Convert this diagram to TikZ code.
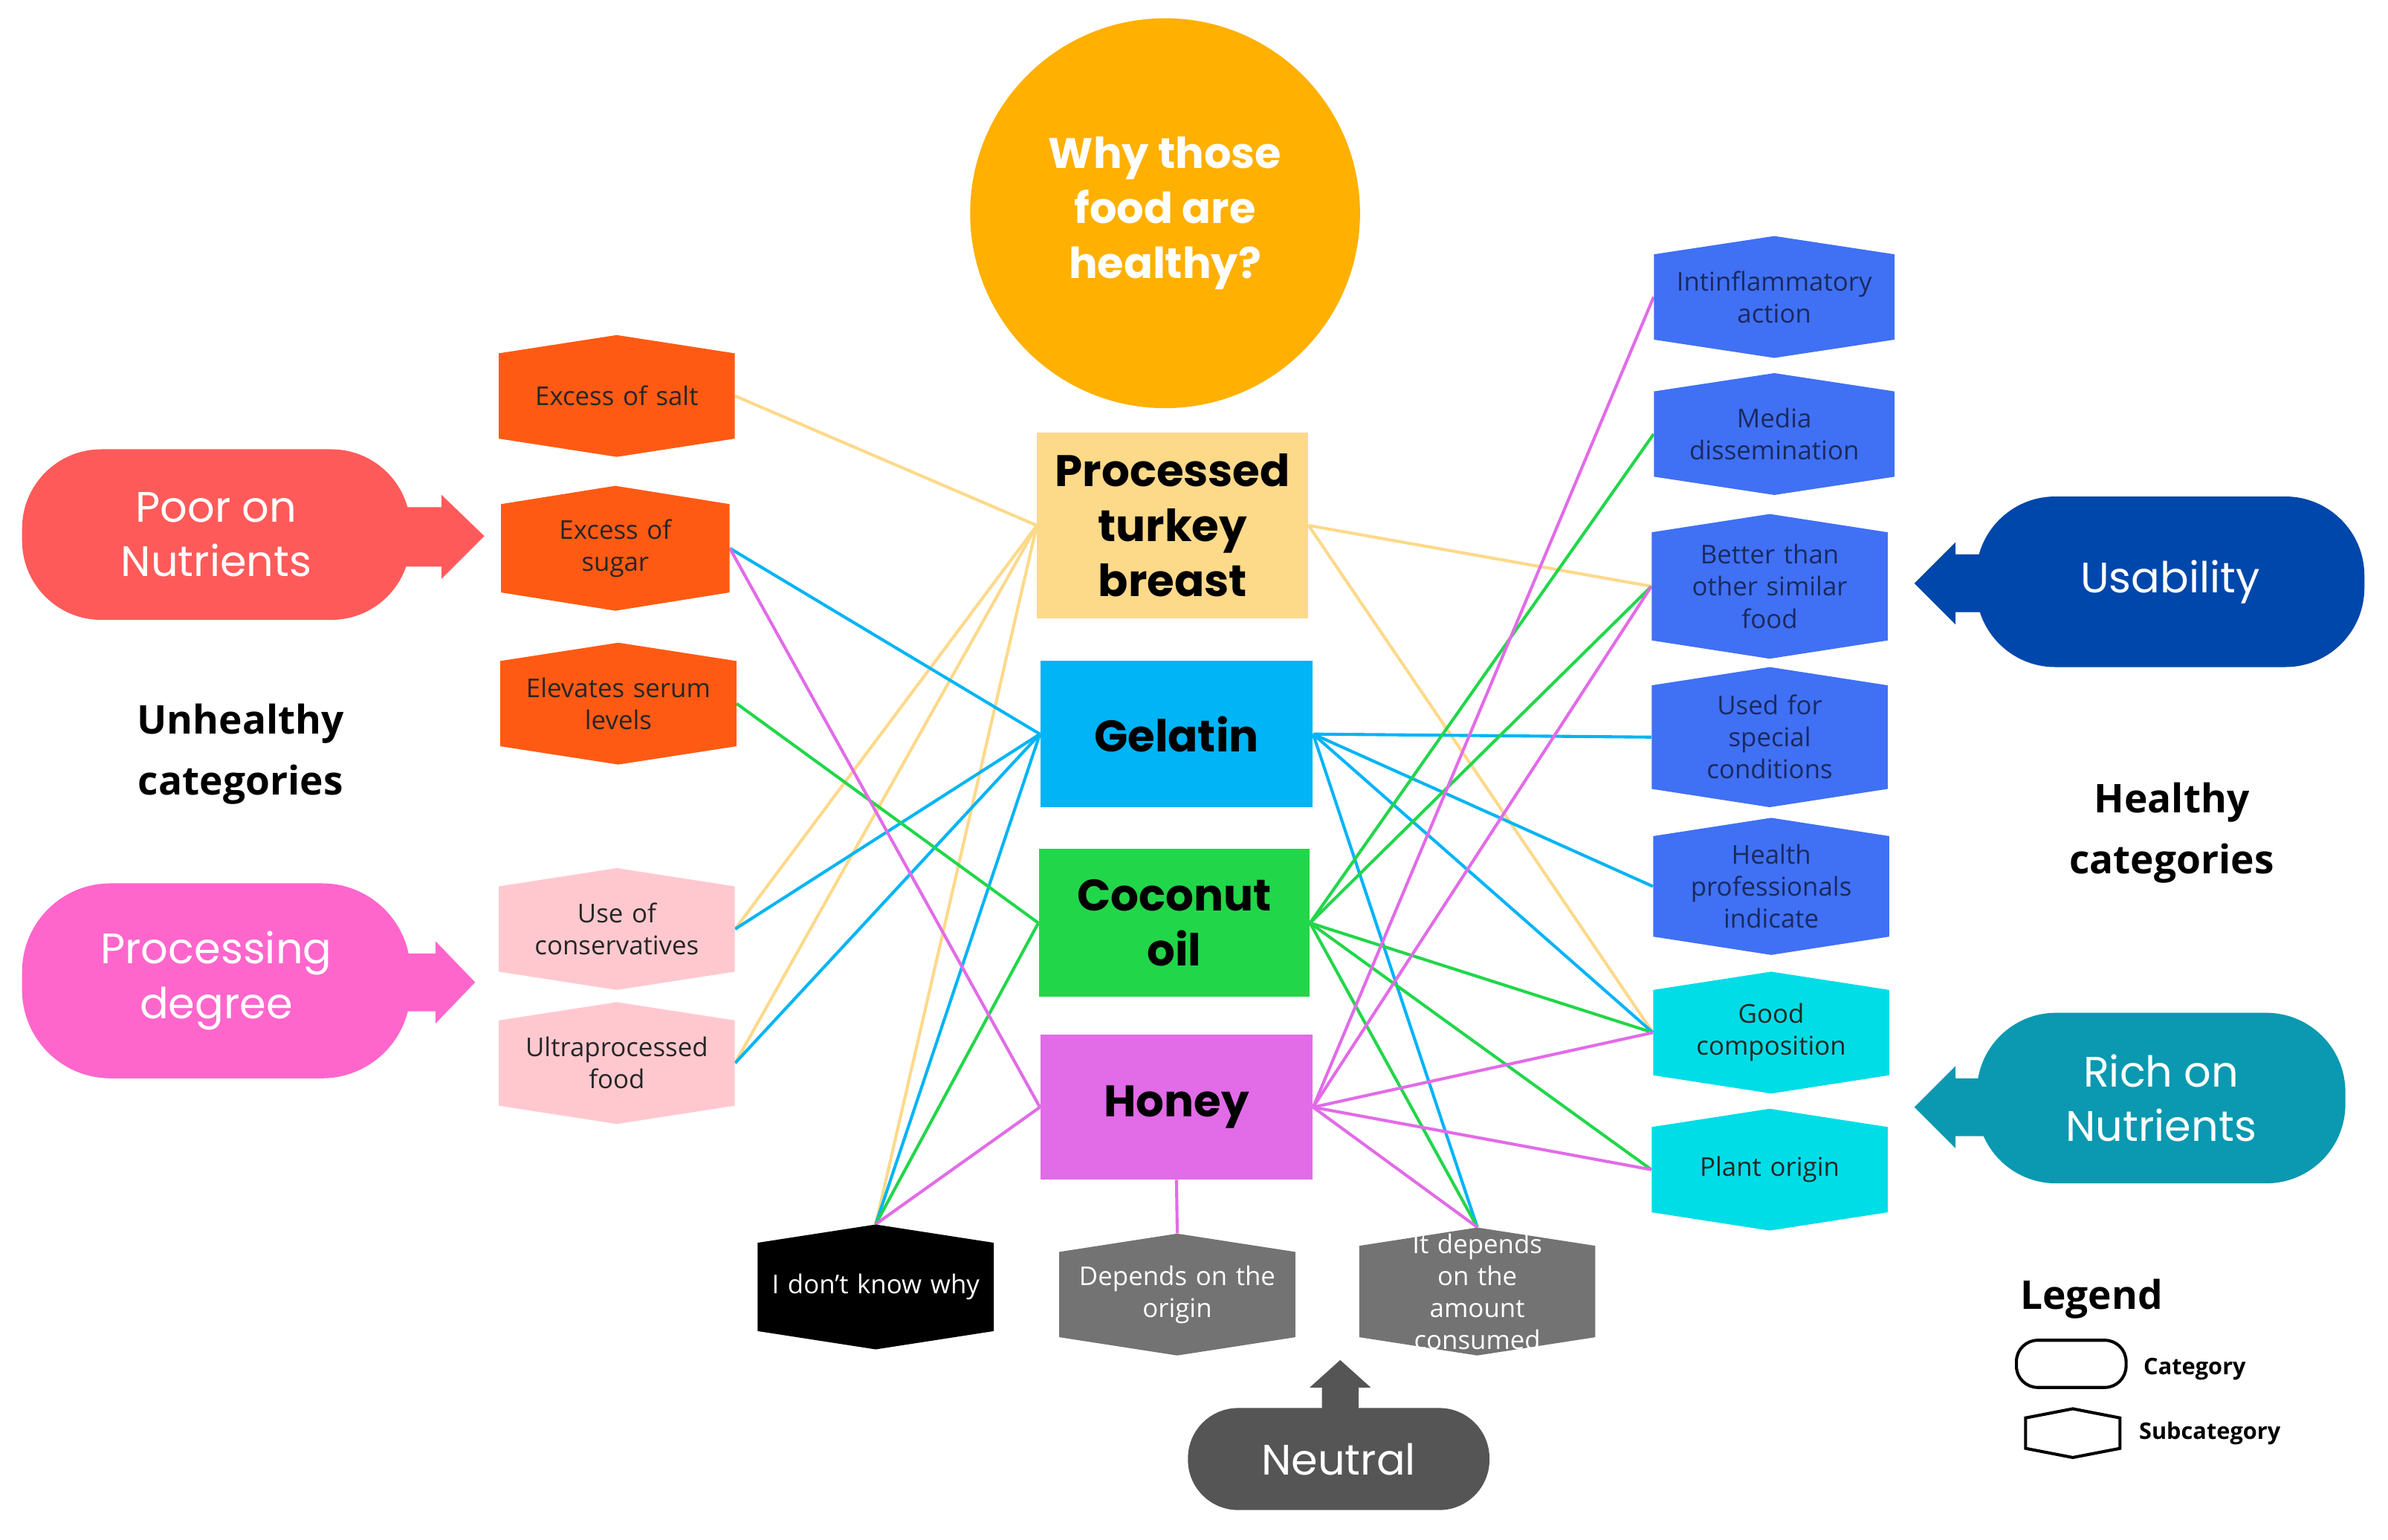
\documentclass[tikz,border=0pt]{standalone}
\usepackage{fontspec}
\setmainfont{Open Sans}
\newfontfamily\pop{Poppins}
\usetikzlibrary{backgrounds}
\definecolor{corg}{HTML}{FF5A14}
\definecolor{cpink}{HTML}{FFC8CF}
\definecolor{cblue}{HTML}{4070F4}
\definecolor{ccyan}{HTML}{00DDE6}
\definecolor{cgray}{HTML}{737373}
\definecolor{cturk}{HTML}{FDD98A}
\definecolor{cgel}{HTML}{00B4F5}
\definecolor{ccoc}{HTML}{22D64A}
\definecolor{chon}{HTML}{E26BE8}
\definecolor{ccirc}{HTML}{FFB000}
\definecolor{cpoor}{HTML}{FF5A5A}
\definecolor{cproc}{HTML}{FF66CC}
\definecolor{cusab}{HTML}{0047AB}
\definecolor{crich}{HTML}{0A99B0}
\definecolor{cneut}{HTML}{555555}
\definecolor{ctxtb}{HTML}{1A2A60}
\tikzset{
 sub/.style={inner sep=0pt, align=center, font=\fontsize{17}{21}\selectfont},
 food/.style={inner sep=0pt, align=center, font=\pop\bfseries\fontsize{29}{36}\selectfont},
 cat/.style={rounded corners=52pt, text=white, align=center, font=\pop\fontsize{28}{36}\selectfont},
 lk/.style={line width=2pt},
}
% name, cx, cy, w, h, fill, text colour, text
\newcommand\hx[8]{%
 \fill[#6] (#2-#4/2,#3-#5/2+12) -- (#2,#3-#5/2) -- (#2+#4/2,#3-#5/2+12) -- (#2+#4/2,#3+#5/2-12) -- (#2,#3+#5/2) -- (#2-#4/2,#3+#5/2-12) -- cycle;
 \node[sub, minimum width=#4pt, minimum height=#5pt, text width=#4pt-12pt, text=#7] (#1) at (#2,#3) {#8};}
\begin{document}
\begin{tikzpicture}[x=1pt,y=-1pt]
\useasboundingbox (0,0) rectangle (1568,1011);
% circle
\fill[ccirc] (765,140) circle (128);
\node[text=white, align=center, font=\pop\bfseries\fontsize{28}{36}\selectfont] (q) at (765,140) {Why those\\food are\\healthy?};
% center boxes
\node[food, fill=cturk, minimum width=178pt, minimum height=122pt] (tur) at (770,345) {Processed\\turkey\\breast};
\node[food, fill=cgel, minimum width=179pt, minimum height=96pt] (gel) at (772.5,482) {Gelatin};
\node[food, fill=ccoc, minimum width=178pt, minimum height=97pt] (coc) at (771,606) {Coconut\\oil};
\node[food, fill=chon, minimum width=179pt, minimum height=95pt] (hon) at (772.5,727) {Honey};
% left subcategories
\hx{salt}{405}{260}{155}{80}{corg}{black!85}{Excess of salt}
\hx{sug}{404}{360}{150}{82}{corg}{black!85}{Excess of\\sugar}
\hx{ser}{406}{462}{155}{80}{corg}{black!85}{Elevates serum\\levels}
\hx{cons}{405}{610}{155}{80}{cpink}{black!85}{Use of\\conservatives}
\hx{ultra}{405}{698}{155}{80}{cpink}{black!85}{Ultraprocessed\\food}
% bottom
\hx{idk}{575}{845}{155}{82}{black}{white}{I don't know why}
\hx{orig}{773}{850}{155}{80}{cgray}{white}{Depends on the\\origin}
\hx{amt}{970}{848}{155}{84}{cgray}{white}{It depends on the\\amount\\consumed}
% right
\hx{inf}{1165}{195}{158}{80}{cblue}{ctxtb}{Intinflammatory\\action}
\hx{med}{1165}{285}{158}{80}{cblue}{ctxtb}{Media\\dissemination}
\hx{bet}{1162}{385}{155}{95}{cblue}{ctxtb}{Better than\\other similar\\food}
\hx{spe}{1162}{484}{155}{92}{cblue}{ctxtb}{Used for\\special\\conditions}
\hx{hea}{1163}{582}{155}{90}{cblue}{ctxtb}{Health\\professionals\\indicate}
\hx{good}{1163}{678}{155}{80}{ccyan}{black!85}{Good\\composition}
\hx{pla}{1162}{768}{155}{80}{ccyan}{black!85}{Plant origin}
% links
\begin{scope}[on background layer]
\draw[lk, cturk] (salt.east) -- (tur.west);
\draw[lk, cturk] (cons.east) -- (tur.west);
\draw[lk, cturk] (ultra.east) -- (tur.west);
\draw[lk, cturk] (idk.north) -- (tur.west);
\draw[lk, cturk] (tur.east) -- (bet.west);
\draw[lk, cturk] (tur.east) -- (good.west);
\draw[lk, cgel] (sug.east) -- (gel.west);
\draw[lk, cgel] (cons.east) -- (gel.west);
\draw[lk, cgel] (ultra.east) -- (gel.west);
\draw[lk, cgel] (idk.north) -- (gel.west);
\draw[lk, cgel] (gel.east) -- (spe.west);
\draw[lk, cgel] (gel.east) -- (hea.west);
\draw[lk, cgel] (gel.east) -- (good.west);
\draw[lk, cgel] (gel.east) -- (amt.north);
\draw[lk, ccoc] (ser.east) -- (coc.west);
\draw[lk, ccoc] (idk.north) -- (coc.west);
\draw[lk, ccoc] (coc.east) -- (med.west);
\draw[lk, ccoc] (coc.east) -- (bet.west);
\draw[lk, ccoc] (coc.east) -- (good.west);
\draw[lk, ccoc] (coc.east) -- (pla.west);
\draw[lk, ccoc] (coc.east) -- (amt.north);
\draw[lk, chon] (sug.east) -- (hon.west);
\draw[lk, chon] (idk.north) -- (hon.west);
\draw[lk, chon] (hon.south) -- (orig.north);
\draw[lk, chon] (hon.east) -- (inf.west);
\draw[lk, chon] (hon.east) -- (bet.west);
\draw[lk, chon] (hon.east) -- (good.west);
\draw[lk, chon] (hon.east) -- (pla.west);
\draw[lk, chon] (hon.east) -- (amt.north);
\end{scope}
% categories
\fill[cpoor] (255,333) -- (290,333) -- (290,325) -- (318,352) -- (290,380) -- (290,372) -- (255,372) -- cycle;
\node[cat, fill=cpoor, minimum width=255pt, minimum height=112pt] (poor) at (142,351) {Poor on\\Nutrients};
\fill[cproc] (255,626) -- (286,626) -- (286,618) -- (312,645) -- (286,672) -- (286,664) -- (255,664) -- cycle;
\node[cat, fill=cproc, minimum width=255pt, minimum height=128pt, rounded corners=58pt] (proc) at (142,644) {Processing\\degree};
\fill[cusab] (1310,364) -- (1284,364) -- (1284,356) -- (1257,383) -- (1284,410) -- (1284,402) -- (1310,402) -- cycle;
\node[cat, fill=cusab, minimum width=255pt, minimum height=112pt] (usa) at (1425,382) {Usability};
\fill[crich] (1310,708) -- (1284,708) -- (1284,700) -- (1257,727) -- (1284,754) -- (1284,746) -- (1310,746) -- cycle;
\node[cat, fill=crich, minimum width=242pt, minimum height=112pt] (rich) at (1419,721) {Rich on\\Nutrients};
\fill[cneut] (868,935) -- (868,911) -- (860,911) -- (880,893) -- (900,911) -- (892,911) -- (892,935) -- cycle;
\node[cat, fill=cneut, minimum width=198pt, minimum height=67pt, rounded corners=33pt] (neu) at (879,958) {Neutral};
% headings
\node[align=center, font=\bfseries\fontsize{26}{40}\selectfont] (unh) at (158,495) {Unhealthy\\categories};
\node[align=center, font=\bfseries\fontsize{26}{40}\selectfont] (hel) at (1426,547) {Healthy\\categories};
% legend
\node[font=\bfseries\fontsize{26}{30}\selectfont, anchor=west] (leg) at (1323,853) {Legend};
\draw[line width=2pt, rounded corners=14pt] (1324,880) rectangle (1396,911);
\node[font=\bfseries\fontsize{15}{18}\selectfont, anchor=west] (lc) at (1404,899) {Category};
\draw[line width=2pt] (1330,931) -- (1361,925) -- (1392,931) -- (1392,951) -- (1361,957) -- (1330,951) -- cycle;
\node[font=\bfseries\fontsize{15}{18}\selectfont, anchor=west] (ls) at (1401,941) {Subcategory};
\end{tikzpicture}
\end{document}
